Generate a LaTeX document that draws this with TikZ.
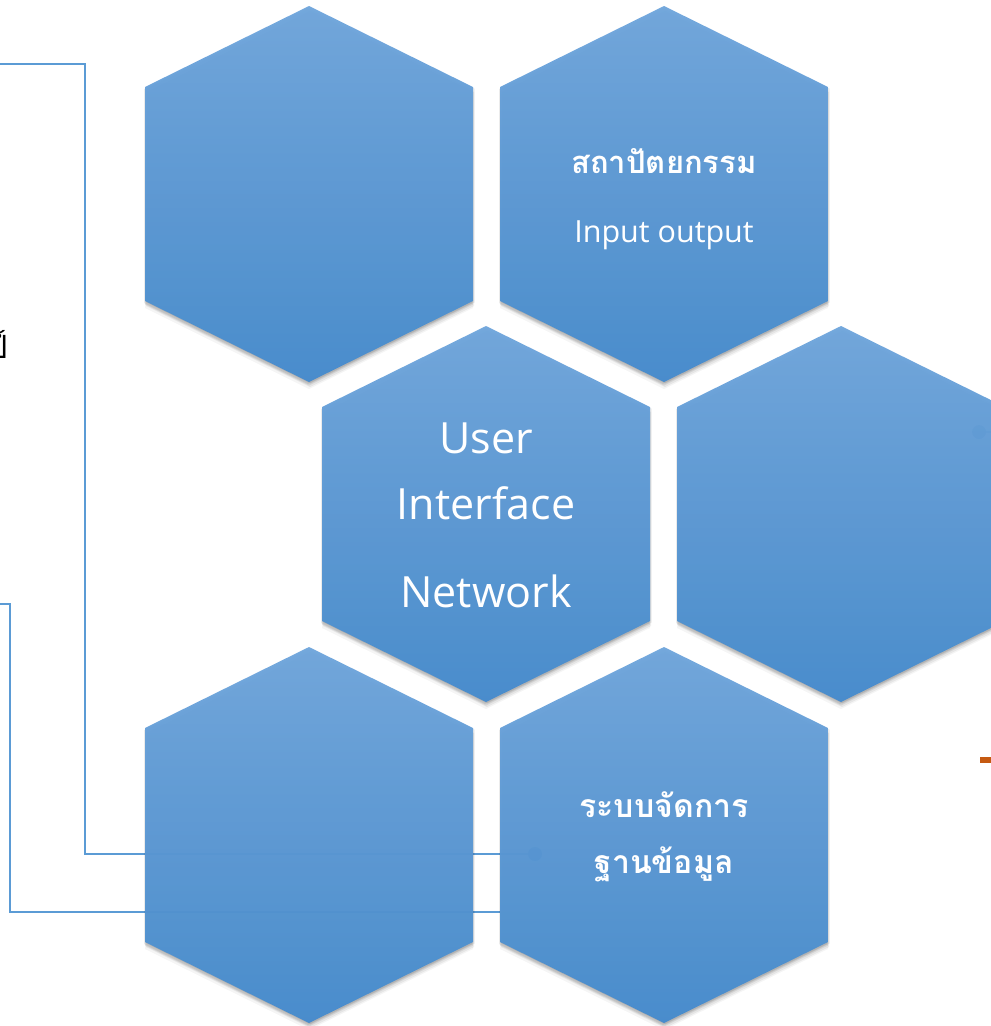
\documentclass[tikz,border=0pt]{standalone}
\usepackage{fontspec}
\setmainfont{Open Sans}
\newfontfamily\thaifont[Script=Thai]{Loma}
\definecolor{hexTop}{RGB}{112,166,220}
\definecolor{hexBot}{RGB}{70,139,205}
\definecolor{lineBlue}{RGB}{91,155,213}
\definecolor{dotBlue}{RGB}{55,115,185}
\definecolor{markOrange}{RGB}{197,90,17}
\newcommand\hexcell[2]{%
  \foreach \dx/\dy/\o in {0/7/0.04,1/5/0.06,0/3.5/0.08,-1/2/0.08,1.5/1.5/0.08}{%
    \fill[black,opacity=\o,shift={({#1+\dx},{#2+\dy})}]
      (0,-188)--(164,-107)--(164,107)--(0,188)--(-164,107)--(-164,-107)--cycle;}
  \shade[top color=hexTop,bottom color=hexBot,fill opacity=0.965,shift={(#1,#2)}]
      (0,-188)--(164,-107)--(164,107)--(0,188)--(-164,107)--(-164,-107)--cycle;}
\tikzset{
  conn/.style={draw=lineBlue,line width=2.4pt},
  hexdot/.style={fill=dotBlue,draw=none},
  latlab/.style={text=white,font=\fontsize{43}{47}\selectfont,anchor=base},
  iolab/.style={text=white,font=\fontsize{30.5}{34}\selectfont,anchor=base},
  thlab/.style={text=white,font=\thaifont\bfseries\fontsize{31}{34}\selectfont,anchor=base}
}
\begin{document}
\begin{tikzpicture}[x=1pt,y=-1pt]
\fill[white] (0,0) rectangle (991,1026);
\useasboundingbox (0,0) rectangle (991,1026);
% connectors
\coordinate (a1) at (-5,64);
\coordinate (a2) at (85,64);
\coordinate (a3) at (85,854);
\coordinate (a4) at (535,854);
\coordinate (b1) at (-5,604);
\coordinate (b2) at (10,604);
\coordinate (b3) at (10,912);
\coordinate (b4) at (500,912);
\coordinate (c1) at (979,432);
\coordinate (c2) at (995,432);
\draw[conn] (a1) -- (a2) -- (a3) -- (a4);
\draw[conn] (b1) -- (b2) -- (b3) -- (b4);
\draw[conn] (c1) -- (c2);
\fill[hexdot] (a4) circle (7);
\fill[hexdot] (c1) circle (7);
% hexagons
\hexcell{309}{194}
\hexcell{664}{194}
\hexcell{486}{514}
\hexcell{841}{514}
\hexcell{309}{835}
\hexcell{664}{835}
% texts
\node[thlab] (t1) at (664,173) {สถาปัตยกรรม};
\node[iolab] (t2) at (664,242) {Input output};
\node[latlab] (t3) at (486,453) {User};
\node[latlab] (t4) at (486,519) {Interface};
\node[latlab] (t5) at (486,607) {Network};
\node[thlab,font=\thaifont\bfseries\fontsize{32}{34}\selectfont] (t6) at (664,817) {ระบบจัดการ};
\node[thlab,font=\thaifont\bfseries\fontsize{32}{34}\selectfont] (t7) at (664,873) {ฐานข้อมูล};
\node[font=\thaifont\fontsize{32}{34}\selectfont,anchor=base east,inner sep=0pt] (t8) at (8,358) {ป์};
% orange mark
\fill[markOrange] (980,757) rectangle (995,763);
\end{tikzpicture}
\end{document}
